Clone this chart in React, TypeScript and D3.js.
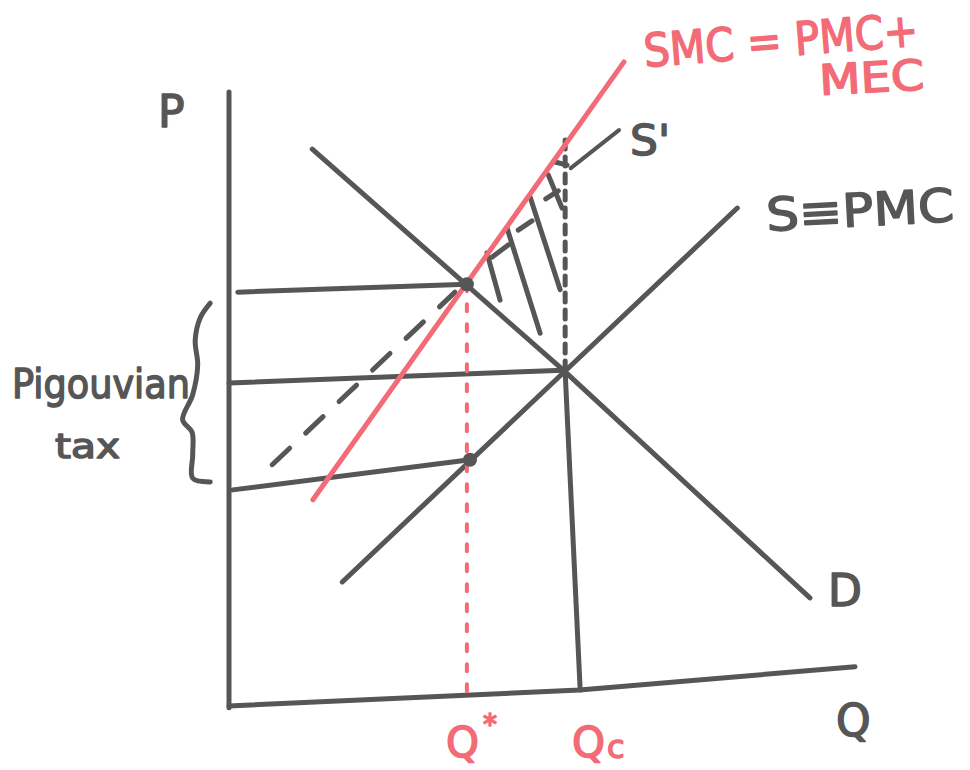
import React, { useEffect, useRef } from 'react'
import * as d3 from 'd3'

// all curves in (Q, P) units
const axisQ = [[0, 0], [56, 2.6], [100, 6.4]]
const axisP = [[0, -0.3], [0, 100]]
const demand = [[13.3, 90.7], [53.4, 54.7], [92.8, 17.6]]
const supply = [[18.1, 20.2], [81.2, 81.1]]
const smc = [[13.4, 33.6], [63.1, 104.9]]
const sPrime = [[6.9, 39.3], [36.1, 67.4]]
const sPrimeLeader = [[54.6, 87.6], [62.3, 93.8]]
const pStarLine = [[1.4, 67.4], [38.0, 68.7]]
const pCLine = [[0, 52.6], [53.4, 54.7]]
const pLowLine = [[0.6, 35.2], [38.5, 40.1]]
const qStarDrop = [[38.0, 68.7], [38.0, 1.0]]
const qCDrop = [[53.7, 54.4], [56.1, 2.6]]
const sPrimeDrop = [[53.7, 92.2], [53.7, 54.7]]
const dots = [[38.0, 68.7], [38.5, 40.1]]
const hatch = [
    [[41.2, 73.8], [43.3, 66.1]],
    [[44.4, 77.9], [49.7, 60.7]],
    [[48.1, 82.9], [52.9, 67.8]],
    [[42.0, 73.1], [44.6, 75.1]],
    [[46.2, 77.5], [48.4, 79.0]],
    [[51.0, 86.5], [53.2, 81.1]],
    [[50.6, 82.6], [52.6, 83.9]],
    [[52.1, 88.6], [54.0, 88.1]],
]
const brace = [[-3.0, 65.6], [-4.6, 63.2], [-5.4, 59.6], [-5.0, 55.5], [-5.8, 50.7], [-7.4, 46.6],
    [-5.9, 44.6], [-5.8, 40.9], [-5.8, 37.1], [-3.0, 36.5]]

export default function App() {
    const ref = useRef(null)
    const ink = '#565656'
    const red = '#f26b77'

    useEffect(() => {
        draw()
    }, [])

    const draw = () => {
        const svg = d3.select(ref.current)
        svg.selectAll('*').remove()

        const x = d3.scaleLinear().domain([0, 100]).range([229, 855])
        const y = d3.scaleLinear().domain([0, 100]).range([706, 92])
        const line = d3.line().x(d => x(d[0])).y(d => y(d[1]))

        const g = svg.append('g')
            .attr('fill', 'none')
            .attr('stroke-linecap', 'round')
            .attr('stroke-linejoin', 'round')

        const path = (pts, color, w, dash = null) => g.append('path')
            .datum(pts)
            .attr('d', line)
            .attr('stroke', color)
            .attr('stroke-width', w)
            .attr('stroke-dasharray', dash)

        path(axisP, ink, 5)
        path(axisQ, ink, 5)
        path(demand, ink, 5)
        path(supply, ink, 5)
        path(pStarLine, ink, 5)
        path(pCLine, ink, 5)
        path(pLowLine, ink, 5)
        path(qCDrop, ink, 5)
        path(sPrime, ink, 5, '24 22')
        path(sPrimeDrop, ink, 5, '9 8')
        path(sPrimeLeader, ink, 4)
        hatch.forEach(h => path(h, ink, 5))
        g.append('path')
            .datum(brace)
            .attr('d', d3.line().x(d => x(d[0])).y(d => y(d[1])).curve(d3.curveCatmullRom))
            .attr('stroke', ink)
            .attr('stroke-width', 5)
        path(qStarDrop, red, 4, '7 13')
        path(smc, red, 5)

        g.selectAll('circle')
            .data(dots)
            .join('circle')
            .attr('cx', d => x(d[0]))
            .attr('cy', d => y(d[1]))
            .attr('r', 7)
            .attr('fill', ink)

        const txt = svg.append('g')
            .style('font-family', 'DejaVu Sans')
            .attr('stroke-linejoin', 'round')

        const label = (s, tx, ty, size, color, len = null, rot = 0) => {
            const t = txt.append('text')
                .attr('x', tx)
                .attr('y', ty)
                .attr('fill', color)
                .attr('stroke', color)
                .attr('stroke-width', 1.5)
                .style('font-size', size + 'px')
                .text(s)
            if (len) t.attr('textLength', len).attr('lengthAdjust', 'spacingAndGlyphs')
            if (rot) t.attr('transform', `rotate(${rot},${tx},${ty})`)
            return t
        }

        label('P', 158, 127, 44, ink)
        label('SMC = PMC+', 645, 67, 46, red, 275, -4.5)
        label('MEC', 820, 95, 42, red, 105, -3)
        label("S'", 630, 155, 42, ink, 40)
        label('S≡PMC', 767, 231, 46, ink, 188, -3)
        label('D', 828, 606, 44, ink)
        label('Q', 836, 736, 44, ink)
        label('Q', 446, 757, 42, red)
        label('*', 483, 734, 28, red)
        label('Q', 572, 757, 42, red)
        label('c', 607, 758, 32, red)
        label('Pigouvian', 12, 398, 40, ink, 178)
        label('tax', 55, 458, 34, ink, 65)
    }

    return (
        <div style={{ position: 'absolute', left: 0, top: 0 }}>
            <svg ref={ref} width={970} height={770} style={{ display: 'block', background: '#fff' }}></svg>
        </div>
    )
}
